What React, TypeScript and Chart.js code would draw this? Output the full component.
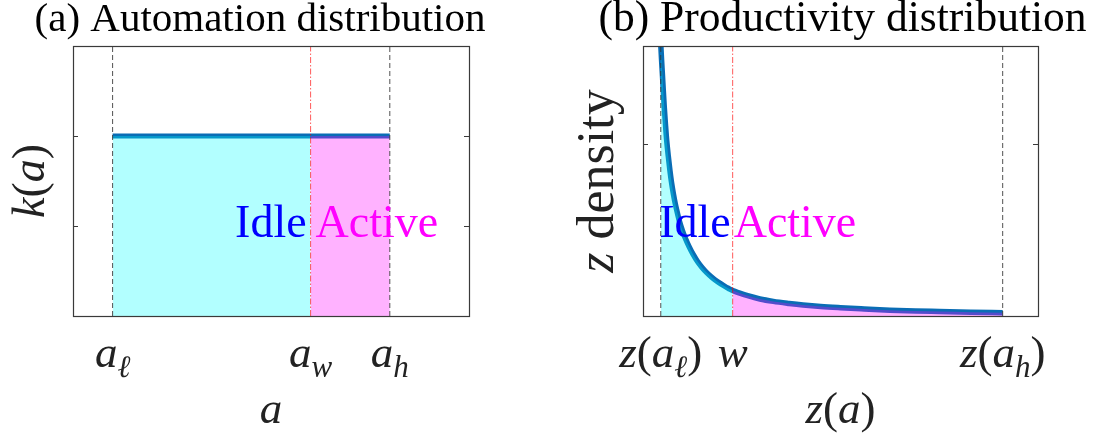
import React, { useEffect, useRef } from 'react';
import { Chart, registerables } from 'chart.js';

Chart.register(...registerables);

const FONT = '"Liberation Serif", "Times New Roman", serif';

// ---------- Panel (a): automation distribution ----------
const A_TITLE = '(a) Automation distribution';
const A_X_RANGE = [0, 1];
const A_Y_RANGE = [0, 3];
const A_Y_TICKS = [1, 2];
const A_LOW = 0.1; // a_l
const A_WAGE = 0.6; // a_w
const A_HIGH = 0.8; // a_h
const K_DENSITY = 2; // k(a), uniform
const A_LABEL_Y = 0.88;

// ---------- Panel (b): productivity distribution ----------
const B_TITLE = '(b) Productivity distribution';
const B_X_RANGE = [0, 1];
const B_Y_RANGE = [0, 1.57];
const B_Y_TICKS = [1];
const Z_LOW = 0.045; // z(a_l)
const Z_WAGE = 0.227; // w
const Z_HIGH = 0.9106; // z(a_h)
const Z_GRID = [
  0.045, 0.047, 0.049, 0.0514, 0.054, 0.057, 0.06, 0.064, 0.068, 0.072, 0.077, 0.082, 0.0875,
  0.093, 0.1, 0.108, 0.117, 0.127, 0.138, 0.15, 0.162, 0.176, 0.19, 0.205, 0.217, 0.227,
  0.245, 0.265, 0.296, 0.33, 0.37, 0.405, 0.45, 0.5, 0.56, 0.625, 0.69, 0.75, 0.83, 0.9106,
];
const Z_DENSITY = [
  1.58, 1.49, 1.41, 1.31, 1.21, 1.11, 1.02, 0.93, 0.85, 0.78, 0.71, 0.65, 0.595,
  0.545, 0.495, 0.448, 0.402, 0.358, 0.317, 0.281, 0.251, 0.222, 0.198, 0.176, 0.16, 0.148,
  0.133, 0.118, 0.099, 0.085, 0.073, 0.064, 0.055, 0.048, 0.041, 0.034, 0.029, 0.026, 0.022, 0.019,
];
const B_LABEL_Y = 0.46;

// ---------- labels (math segments) ----------
type Seg = { t: string; i?: boolean; s?: boolean };
const A_TICK_LABELS: Seg[][] = [
  [{ t: 'a', i: true }, { t: 'ℓ', i: true, s: true }],
  [{ t: 'a', i: true }, { t: 'w', i: true, s: true }],
  [{ t: 'a', i: true }, { t: 'h', i: true, s: true }],
];
const B_TICK_LABELS: Seg[][] = [
  [{ t: 'z', i: true }, { t: '(' }, { t: 'a', i: true }, { t: 'ℓ', i: true, s: true }, { t: ')' }],
  [{ t: 'w', i: true }],
  [{ t: 'z', i: true }, { t: '(' }, { t: 'a', i: true }, { t: 'h', i: true, s: true }, { t: ')' }],
];
const A_X_TITLE: Seg[] = [{ t: 'a', i: true }];
const A_Y_TITLE: Seg[] = [{ t: 'k', i: true }, { t: '(' }, { t: 'a', i: true }, { t: ')' }];
const B_X_TITLE: Seg[] = [{ t: 'z', i: true }, { t: '(' }, { t: 'a', i: true }, { t: ')' }];
const B_Y_TITLE: Seg[] = [{ t: 'z', i: true }, { t: ' density' }];

const CYAN = 'rgba(0,255,255,0.3)';
const MAGENTA = 'rgba(255,0,255,0.3)';
const LINE_BLUE = '#0a6db5';
const DASH_GRAY = 'rgba(50,50,50,0.85)';
const WAGE_RED = 'rgba(255,0,0,0.65)';

function drawSegs(
  ctx: CanvasRenderingContext2D,
  segs: Seg[],
  x: number,
  y: number,
  size: number,
  align: 'center' | 'left' | 'right',
  color: string
) {
  const font = (s: Seg) => `${s.i ? 'italic ' : ''}${s.s ? Math.round(size * 0.7) : size}px ${FONT}`;
  let total = 0;
  const ws = segs.map((s) => {
    ctx.font = font(s);
    const w = ctx.measureText(s.t).width;
    total += w;
    return w;
  });
  let cx = align === 'center' ? x - total / 2 : align === 'right' ? x - total : x;
  ctx.fillStyle = color;
  ctx.textBaseline = 'alphabetic';
  ctx.textAlign = 'left';
  segs.forEach((s, k) => {
    ctx.font = font(s);
    ctx.fillText(s.t, cx, y + (s.s ? size * 0.22 : 0));
    cx += ws[k];
  });
}

type Deco = {
  title: string;
  titleSize: number;
  titleShift: number;
  xTickValues: number[];
  xTickLabels: Seg[][];
  xTitle: Seg[];
  yTitle: Seg[];
  yTitleX: number;
  yTitleSize: number;
  yTicks: number[];
  labelAt: number;
  labelY: number;
  labelGaps: number[];
};

function decoPlugin(d: Deco) {
  return {
    id: 'deco',
    afterDatasetsDraw(chart: any) {
      const ctx: CanvasRenderingContext2D = chart.ctx;
      const { left, right, top, bottom } = chart.chartArea;
      const xs = chart.scales.x;
      const ys = chart.scales.y;
      ctx.save();
      // Idle / Active labels
      const lx = xs.getPixelForValue(d.labelAt);
      const ly = ys.getPixelForValue(d.labelY);
      drawSegs(ctx, [{ t: 'Idle' }], lx - d.labelGaps[0], ly, 46, 'right', '#0000FF');
      drawSegs(ctx, [{ t: 'Active' }], lx + d.labelGaps[1], ly, 46, 'left', '#FF00FF');
      // box
      ctx.strokeStyle = '#3a3a3a';
      ctx.lineWidth = 1.2;
      ctx.setLineDash([]);
      ctx.strokeRect(Math.round(left) + 0.5, Math.round(top) + 0.5, Math.round(right - left), Math.round(bottom - top));
      // y ticks (inside, both sides)
      d.yTicks.forEach((v) => {
        const y = Math.round(ys.getPixelForValue(v)) + 0.5;
        ctx.beginPath();
        ctx.moveTo(left, y);
        ctx.lineTo(left + 5, y);
        ctx.moveTo(right - 5, y);
        ctx.lineTo(right, y);
        ctx.stroke();
      });
      // title
      const cx = (left + right) / 2;
      drawSegs(ctx, [{ t: d.title }], cx + d.titleShift, 31, d.titleSize, 'center', '#000');
      // x tick labels
      d.xTickValues.forEach((v, k) => {
        drawSegs(ctx, d.xTickLabels[k], xs.getPixelForValue(v), 367, 45, 'center', '#222');
      });
      // x title
      drawSegs(ctx, d.xTitle, cx, 423, 45, 'center', '#222');
      // y title, rotated
      ctx.translate(d.yTitleX, (top + bottom) / 2);
      ctx.rotate(-Math.PI / 2);
      drawSegs(ctx, d.yTitle, 0, 0, d.yTitleSize, 'center', '#222');
      ctx.restore();
    },
  };
}

function vline(x: number, yMax: number, color: string, dash: number[]) {
  return {
    data: [
      { x, y: 0 },
      { x, y: yMax },
    ],
    borderColor: color,
    borderWidth: 1,
    borderDash: dash,
    pointRadius: 0,
    fill: false,
    order: 1,
    clip: 0,
  };
}

function fillSet(data: { x: number; y: number }[], color: string) {
  return {
    data,
    borderColor: 'rgba(0,0,0,0)',
    borderWidth: 0,
    backgroundColor: color,
    fill: 'origin',
    pointRadius: 0,
    cubicInterpolationMode: 'monotone',
    order: 2,
    clip: 0,
  };
}

function baseOptions(padding: any, xr: number[], yr: number[]) {
  return {
    responsive: false,
    animation: false,
    devicePixelRatio: 1,
    events: [],
    layout: { padding },
    scales: {
      x: { type: 'linear', min: xr[0], max: xr[1], display: false },
      y: { type: 'linear', min: yr[0], max: yr[1], display: false },
    },
    plugins: { legend: { display: false }, tooltip: { enabled: false }, title: { display: false } },
  };
}

function configA(): any {
  return {
    type: 'line',
    data: {
      datasets: [
        vline(A_LOW, A_Y_RANGE[1], DASH_GRAY, [5, 3]),
        vline(A_HIGH, A_Y_RANGE[1], DASH_GRAY, [5, 3]),
        vline(A_WAGE, A_Y_RANGE[1], WAGE_RED, [6, 2, 1.5, 2]),
        fillSet(
          [
            { x: A_LOW, y: K_DENSITY },
            { x: A_WAGE, y: K_DENSITY },
          ],
          CYAN
        ),
        fillSet(
          [
            { x: A_WAGE, y: K_DENSITY },
            { x: A_HIGH, y: K_DENSITY },
          ],
          MAGENTA
        ),
        {
          data: [
            { x: A_LOW, y: K_DENSITY },
            { x: A_HIGH, y: K_DENSITY },
          ],
          borderColor: LINE_BLUE,
          borderWidth: 5,
          pointRadius: 0,
          fill: false,
          order: 3,
          clip: 0,
        },
      ],
    },
    options: baseOptions({ left: 73, right: 546 - 469, top: 46, bottom: 444 - 316 }, A_X_RANGE, A_Y_RANGE),
    plugins: [
      decoPlugin({
        title: A_TITLE,
        titleSize: 41,
        titleShift: -11,
        xTickValues: [A_LOW, A_WAGE, A_HIGH],
        xTickLabels: A_TICK_LABELS,
        xTitle: A_X_TITLE,
        yTitle: A_Y_TITLE,
        yTitleX: 44,
        yTitleSize: 46,
        yTicks: A_Y_TICKS,
        labelAt: A_WAGE,
        labelY: A_LABEL_Y,
        labelGaps: [4, 5],
      }),
    ],
  };
}

function configB(): any {
  const pts = Z_GRID.map((x, k) => ({ x, y: Z_DENSITY[k] }));
  const idle = pts.filter((p) => p.x <= Z_WAGE);
  const active = pts.filter((p) => p.x >= Z_WAGE && p.x <= Z_HIGH);
  return {
    type: 'line',
    data: {
      datasets: [
        vline(Z_LOW, B_Y_RANGE[1], DASH_GRAY, [5, 3]),
        vline(Z_HIGH, B_Y_RANGE[1], DASH_GRAY, [5, 3]),
        vline(Z_WAGE, B_Y_RANGE[1], WAGE_RED, [6, 2, 1.5, 2]),
        fillSet(idle, CYAN),
        fillSet(active, MAGENTA),
        {
          data: pts,
          borderColor: LINE_BLUE,
          borderWidth: 5.5,
          pointRadius: 0,
          fill: false,
          cubicInterpolationMode: 'monotone',
          order: 3,
          clip: 0,
        },
      ],
    },
    options: baseOptions({ left: 97, right: 547 - 492, top: 46, bottom: 444 - 316 }, B_X_RANGE, B_Y_RANGE),
    plugins: [
      decoPlugin({
        title: B_TITLE,
        titleSize: 43.5,
        titleShift: 2,
        xTickValues: [Z_LOW, Z_WAGE, Z_HIGH],
        xTickLabels: B_TICK_LABELS,
        xTitle: B_X_TITLE,
        yTitle: B_Y_TITLE,
        yTitleX: 67,
        yTitleSize: 52,
        yTicks: B_Y_TICKS,
        labelAt: Z_WAGE,
        labelY: B_LABEL_Y,
        labelGaps: [2, 1],
      }),
    ],
  };
}

function Panel({ make, left, width }: { make: () => any; left: number; width: number }) {
  const ref = useRef<HTMLCanvasElement>(null);
  useEffect(() => {
    const chart = new Chart(ref.current as HTMLCanvasElement, make());
    return () => chart.destroy();
  }, []);
  return (
    <div style={{ position: 'absolute', left, top: 0, width, height: 444 }}>
      <canvas ref={ref} width={width} height={444} style={{ display: 'block', width, height: 444 }} />
    </div>
  );
}

export default function App() {
  return (
    <div style={{ position: 'absolute', left: 0, top: 0, width: 1093, height: 444, background: '#fff', overflow: 'hidden' }}>
      <Panel make={configA} left={0} width={546} />
      <Panel make={configB} left={546} width={547} />
    </div>
  );
}
